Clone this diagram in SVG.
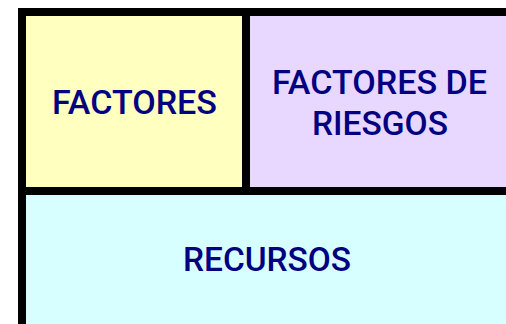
<svg xmlns="http://www.w3.org/2000/svg" width="506" height="324" viewBox="0 0 506 324">
  <style>
    .lbl { font-family: Roboto, "Liberation Sans", sans-serif; font-size: 33.5px; font-weight: 500; fill: #000080; text-anchor: middle; }
  </style>
  <rect x="0" y="0" width="506" height="324" fill="#ffffff"/>
  <rect x="18" y="8" width="488" height="316" fill="#000000"/>
  <g id="factores">
    <rect x="26" y="16" width="216" height="171" fill="#FFFFC0"/>
    <text class="lbl" x="134.5" y="113.5" textLength="165" lengthAdjust="spacingAndGlyphs">FACTORES</text>
  </g>
  <g id="factores-riesgos">
    <rect x="250" y="16" width="256" height="171" fill="#E8D8FF"/>
    <text class="lbl" x="379.5" y="93.5" textLength="215" lengthAdjust="spacingAndGlyphs">FACTORES DE</text>
    <text class="lbl" x="380" y="135" textLength="136" lengthAdjust="spacingAndGlyphs">RIESGOS</text>
  </g>
  <g id="recursos">
    <rect x="26" y="195" width="480" height="129" fill="#D8FFFF"/>
    <text class="lbl" x="267" y="271" textLength="168" lengthAdjust="spacingAndGlyphs">RECURSOS</text>
  </g>
  <g id="connectors"></g>
</svg>
